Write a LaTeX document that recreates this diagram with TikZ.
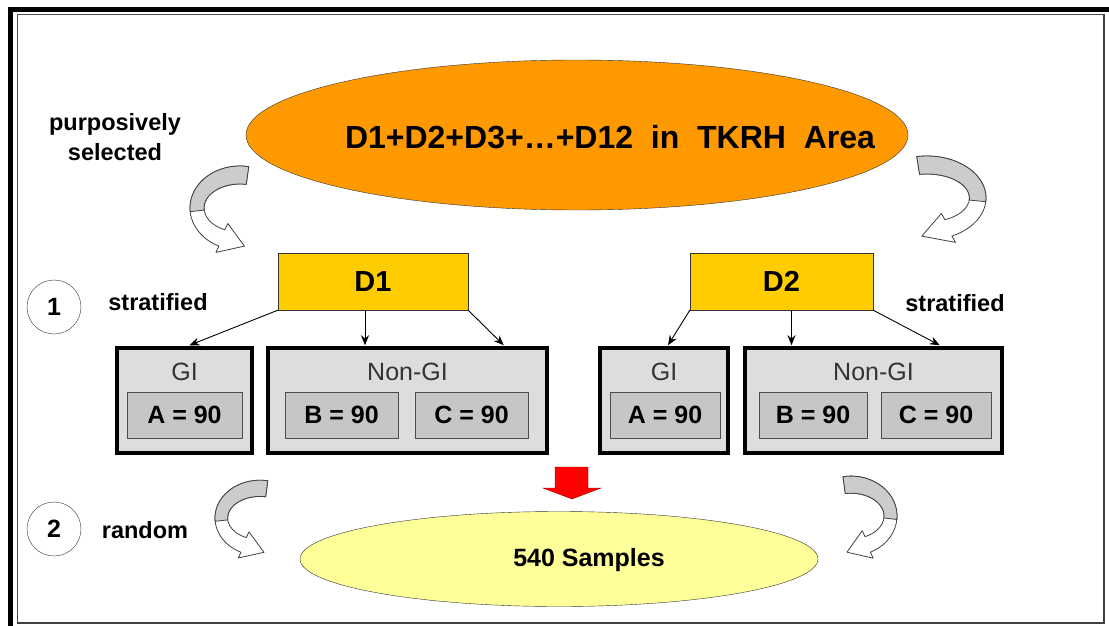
\documentclass[tikz,border=0pt]{standalone}
\usepackage{fontspec}
\setmainfont{Liberation Sans}
\usetikzlibrary{shapes,shapes.geometric,arrows.meta,calc,positioning}

\definecolor{areaorange}{HTML}{FF9900}
\definecolor{dyellow}{HTML}{FFCC00}
\definecolor{sampleyellow}{HTML}{FFFF99}
\definecolor{groupgray}{HTML}{DDDDDD}
\definecolor{cellgray}{HTML}{C6C6C6}

\tikzset{
  area/.style={ellipse, draw=black!80, fill=areaorange, inner sep=0pt,
    minimum width=662pt, minimum height=150pt},
  sampleell/.style={ellipse, draw=black!80, fill=sampleyellow, inner sep=0pt,
    minimum width=518pt, minimum height=95pt},
  dbox/.style={draw=black!80, fill=dyellow, minimum width=190pt, minimum height=57pt,
    font=\fontsize{29}{34}\selectfont\bfseries},
  group/.style={draw=black, line width=3.5pt, fill=groupgray, minimum height=105pt},
  grouptext/.style={font=\fontsize{25}{30}\selectfont, text=black!80, inner sep=0pt},
  cell/.style={draw=black!70, line width=1pt, fill=cellgray, minimum height=46pt,
    font=\fontsize{25}{30}\selectfont\bfseries},
  stepnum/.style={circle, draw=black!80, fill=white, minimum size=54pt, inner sep=0pt,
    font=\fontsize{25}{30}\selectfont\bfseries},
  note/.style={font=\fontsize{23.5}{30}\selectfont\bfseries, align=center},
  link/.style={-{Stealth[length=10pt, width=8pt]}, line width=0.9pt},
  curlline/.style={draw=black!75, line width=0.8pt, line join=round},
  curlarrow/.pic={
    \draw[curlline, fill=white] (-80:50 and 42)
      arc[start angle=-80, end angle=-245, x radius=50, y radius=42]
      -- (-24.1,44.4) -- (4.4,38.1) -- (-12.2,15.5) -- (-245:36 and 24)
      arc[start angle=-245, end angle=-80, x radius=36, y radius=24] -- cycle;
    \draw[curlline, fill=gray!40] (-80:50 and 42)
      arc[start angle=-80, end angle=-185, x radius=50, y radius=42]
      -- (-185:36 and 24)
      arc[start angle=-185, end angle=-80, x radius=36, y radius=24] -- cycle;
  }
}

\begin{document}
\begin{tikzpicture}[x=1pt, y=-1pt]
  \useasboundingbox (0,0) rectangle (1109,626);
  % frame
  \draw[line width=5pt] (10.5,640) -- (10.5,9.5) -- (1120,9.5);
  \draw[line width=1pt, black!70] (17,15) rectangle (1104,623);
  \draw[line width=2.5pt, black!75] (1104,15) -- (1104,623) -- (17,623);

  % top: all districts
  \node[area] (area) at (577,135) {};
  \node[font=\fontsize{32}{38}\selectfont\bfseries] (areatext) at (610,137)
    {D1+D2+D3+…+D12~~in~~TKRH~~Area};
  \node[note] (purp) at (115,137) {purposively\\selected};
  \pic at (240,208) {curlarrow};
  \pic[xscale=-1.18] at (927,198) {curlarrow};

  % step 1
  \node[stepnum] (one) at (54,307) {1};
  \node[note] (strat1) at (158,302) {stratified};
  \node[note] (strat2) at (955,303) {stratified};
  \node[dbox] (d1) at (373,281.5) {D1};
  \node[dbox, minimum width=183pt] (d2) at (781.5,281.5) {D2};

  \node[group, minimum width=135pt] (gi1) at (184.5,400.5) {};
  \node[group, minimum width=279pt] (ngi1) at (407.5,400.5) {};
  \node[group, minimum width=128pt] (gi2) at (664,400.5) {};
  \node[group, minimum width=257pt] (ngi2) at (873.5,400.5) {};
  \node[grouptext, below=17pt of gi1.north] (gi1t) {GI};
  \node[grouptext, below=17pt of ngi1.north] (ngi1t) {Non-GI};
  \node[grouptext, below=17pt of gi2.north] (gi2t) {GI};
  \node[grouptext, below=17pt of ngi2.north] (ngi2t) {Non-GI};
  \node[cell, minimum width=115pt] (a1) at (184.5,415) {A = 90};
  \node[cell, minimum width=113pt] (b1) at (341.5,415) {B = 90};
  \node[cell, minimum width=113pt] (c1) at (471.5,415) {C = 90};
  \node[cell, minimum width=110pt] (a2) at (665,415) {A = 90};
  \node[cell, minimum width=108pt] (b2) at (813,415) {B = 90};
  \node[cell, minimum width=110pt] (c2) at (936,415) {C = 90};

  \coordinate (d1mid) at ($(d1.south)+(-8,0)$);
  \coordinate (d2mid) at ($(d2.south)+(10,0)$);
  \draw[link] (d1.south west) -- ($(gi1.north)+(5,-1)$);
  \draw[link] (d1mid) -- ($(d1mid |- ngi1.north)+(0,-1)$);
  \draw[link] (d1.south east) -- ($(ngi1.north east)+(-45,-1)$);
  \draw[link] (d2.south west) -- ($(gi2.north)+(4,-1)$);
  \draw[link] (d2mid) -- ($(d2mid |- ngi2.north)+(0,-1)$);
  \draw[link] (d2.south east) -- ($(ngi2.north east)+(-64,-1)$);

  % step 2
  \node[stepnum] (two) at (54,529) {2};
  \node[note] (rand) at (145,530) {random};
  \draw[draw=red!60!black, fill=red] (555,467) -- (588,467) -- (588,488) -- (601,488)
    -- (572,499) -- (543,488) -- (555,488) -- cycle;
  \node[sampleell] (samples) at (559,559) {};
  \node[font=\fontsize{25}{30}\selectfont\bfseries] (samplestext) at (589,560) {540 Samples};
  \pic[scale=0.9] at (260,518) {curlarrow};
  \pic[xscale=-0.92, yscale=0.95] at (851,516) {curlarrow};
\end{tikzpicture}
\end{document}
